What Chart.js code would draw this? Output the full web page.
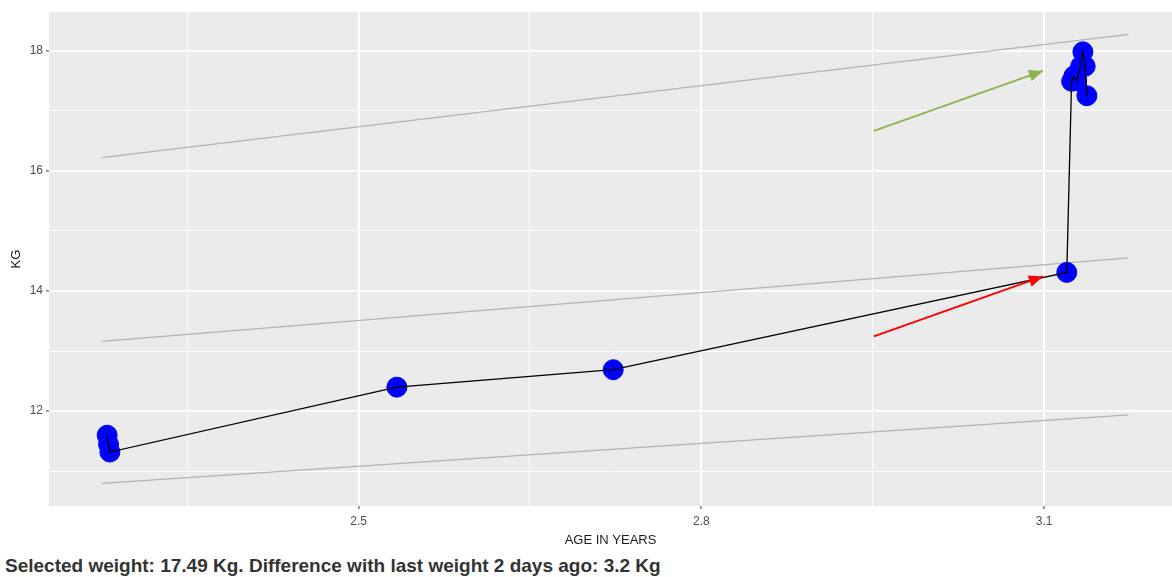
<!DOCTYPE html>
<html>
<head>
<meta charset="utf-8">
<script src="https://cdn.jsdelivr.net/npm/chart.js@4"></script>
<style>
  html, body { margin: 0; padding: 0; background: #fff; }
  #wrap { position: relative; width: 1172px; height: 577px; }
  #chart { position: absolute; left: 0; top: 0; }
  #note {
    position: absolute; left: 5px; top: 556px;
    font: bold 19px "Liberation Sans", Arial, sans-serif; line-height: 19px;
    color: #333; white-space: nowrap;
  }
</style>
</head>
<body>
<div id="wrap">
  <canvas id="chart" width="1172" height="550"></canvas>
  <div id="note">Selected weight: 17.49 Kg. Difference with last weight 2 days ago: 3.2 Kg</div>
</div>
<script>
// weight measurements (age in years, kg)
const ages    = [2.2799, 2.2811, 2.2823, 2.5335, 2.7229, 3.1199, 3.1241, 3.1262, 3.1285, 3.1320, 3.1340, 3.1360, 3.1375];
const weights = [11.60, 11.45, 11.32, 12.40, 12.69, 14.31, 17.49, 17.58, 17.50, 17.74, 17.98, 17.74, 17.25];

// reference lines
const refAges = [2.275, 3.174];
const refLow  = [10.80, 11.94];
const refMid  = [13.16, 14.55];
const refHigh = [16.22, 18.27];

// arrows
const arrowAges  = [2.951, 3.099];
const greenArrow = [16.665, 17.663];
const redArrow   = [13.245, 14.243];

// ticks
const xTicks = [2.5, 2.8, 3.1];
const xMinor = [2.35, 2.65, 2.95];
const yTicks = [12, 14, 16, 18];
const yMinor = [11, 13, 15, 17];

const pts = (xs, ys) => xs.map((x, i) => ({ x: x, y: ys[i] }));

// ---------------- plugins ----------------
const panelBg = {
  id: "panelBg",
  beforeDraw(chart) {
    const a = chart.chartArea, ctx = chart.ctx;
    ctx.save();
    ctx.fillStyle = "#ebebeb";
    ctx.fillRect(a.left, a.top, a.right - a.left, a.bottom - a.top);
    ctx.restore();
  }
};

const arrowHeads = {
  id: "arrowHeads",
  afterDatasetsDraw(chart) {
    const ctx = chart.ctx;
    chart.data.datasets.forEach((ds, i) => {
      if (!ds.arrow) return;
      const d = chart.getDatasetMeta(i).data;
      const p0 = d[d.length - 2], p1 = d[d.length - 1];
      const ang = Math.atan2(p1.y - p0.y, p1.x - p0.x);
      const len = 14, half = 6;
      ctx.save();
      ctx.fillStyle = ds.borderColor;
      ctx.beginPath();
      ctx.moveTo(p1.x, p1.y);
      ctx.lineTo(p1.x - len * Math.cos(ang) + half * Math.sin(ang), p1.y - len * Math.sin(ang) - half * Math.cos(ang));
      ctx.lineTo(p1.x - len * Math.cos(ang) - half * Math.sin(ang), p1.y - len * Math.sin(ang) + half * Math.cos(ang));
      ctx.closePath();
      ctx.fill();
      ctx.restore();
    });
  }
};

function refLine(ys) {
  return { data: pts(refAges, ys), showLine: true, borderColor: "#b3b3b3", borderWidth: 1.3, pointRadius: 0, order: 5 };
}

const tickFont = { family: "'Liberation Sans', Arial, sans-serif", size: 12 };
const titleFont = { family: "'Liberation Sans', Arial, sans-serif", size: 13 };

new Chart(document.getElementById("chart"), {
  type: "scatter",
  data: {
    datasets: [
      refLine(refLow),
      refLine(refMid),
      refLine(refHigh),
      {
        data: pts(ages, weights),
        showLine: false,
        pointRadius: 10,
        pointBackgroundColor: "#0000ff",
        pointBorderColor: "#0000ff",
        pointBorderWidth: 1,
        order: 4
      },
      {
        data: pts(ages, weights),
        showLine: true,
        borderColor: "#000",
        borderWidth: 1.3,
        pointRadius: 0,
        order: 3
      },
      {
        data: pts(arrowAges, greenArrow),
        showLine: true, arrow: true,
        borderColor: "#8fb350", borderWidth: 2, pointRadius: 0, order: 1
      },
      {
        data: pts(arrowAges, redArrow),
        showLine: true, arrow: true,
        borderColor: "#ff0000", borderWidth: 2, pointRadius: 0, order: 1
      }
    ]
  },
  options: {
    responsive: false,
    animation: false,
    layout: { autoPadding: false, padding: { top: 12, left: 0, right: 0, bottom: 0 } },
    plugins: { legend: { display: false }, tooltip: { enabled: false } },
    scales: {
      x: {
        type: "linear",
        min: 2.229, max: 3.212,
        afterFit: s => { s.height = 44; s.paddingLeft = 0; s.paddingRight = 0; },
        afterBuildTicks: s => { s.ticks = xMinor.concat(xTicks).sort((a, b) => a - b).map(v => ({ value: v })); },
        border: { display: false },
        grid: {
          color: "#ffffff",
          lineWidth: c => xTicks.includes(c.tick.value) ? 1.8 : 0.9,
          tickColor: c => xTicks.includes(c.tick.value) ? "#333" : "rgba(0,0,0,0)",
          tickLength: 3,
          tickWidth: 1
        },
        ticks: {
          color: "#4d4d4d", font: tickFont, padding: 5, maxRotation: 0, autoSkip: false,
          callback: v => xTicks.includes(v) ? v : ""
        },
        title: { display: true, text: "AGE IN YEARS", color: "#1a1a1a", font: titleFont, padding: { top: 0, bottom: 2 } }
      },
      y: {
        type: "linear",
        min: 10.422, max: 18.643,
        afterFit: s => { s.width = 49; s.paddingTop = 0; s.paddingBottom = 0; },
        afterBuildTicks: s => { s.ticks = yMinor.concat(yTicks).sort((a, b) => a - b).map(v => ({ value: v })); },
        border: { display: false },
        grid: {
          color: "#ffffff",
          lineWidth: c => yTicks.includes(c.tick.value) ? 1.8 : 0.9,
          tickColor: c => yTicks.includes(c.tick.value) ? "#333" : "rgba(0,0,0,0)",
          tickLength: 3,
          tickWidth: 1
        },
        ticks: {
          color: "#4d4d4d", font: tickFont, padding: 3, autoSkip: false,
          callback: v => yTicks.includes(v) ? v : ""
        },
        title: { display: true, text: "KG", color: "#1a1a1a", font: titleFont, padding: { top: 9, bottom: 0 } }
      }
    }
  },
  plugins: [panelBg, arrowHeads]
});
</script>
</body>
</html>
